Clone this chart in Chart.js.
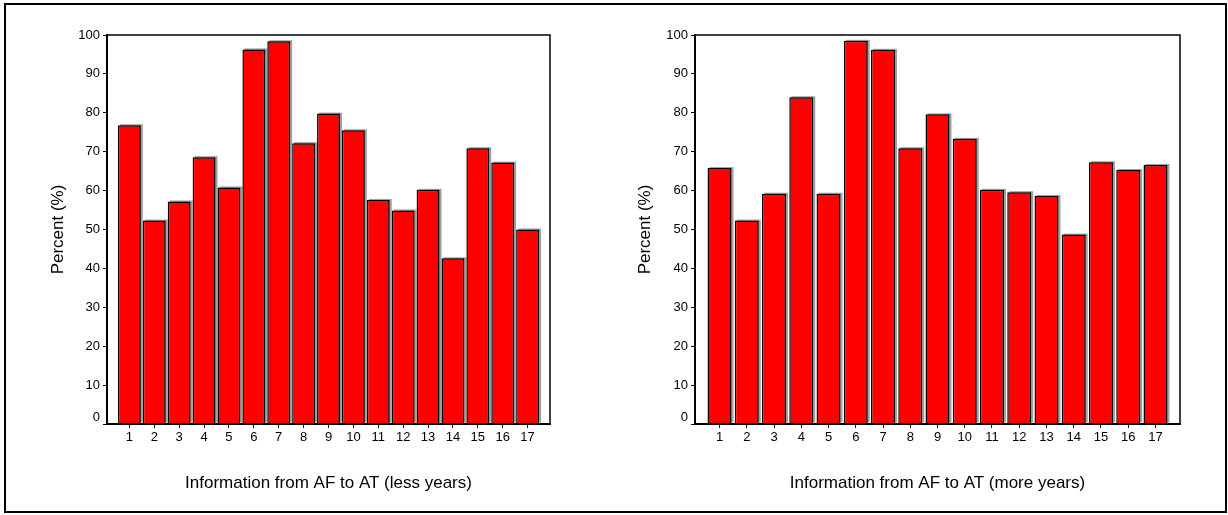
<!DOCTYPE html>
<html>
<head>
<meta charset="utf-8">
<script src="https://cdn.jsdelivr.net/npm/chart.js@4.4.1/dist/chart.umd.min.js"></script>
<style>
  html, body { margin: 0; padding: 0; background: #ffffff; }
  body { width: 1228px; height: 515px; position: relative; overflow: hidden; }
  .panel { position: absolute; top: 0; width: 614px; height: 515px; }
  #panelMenos { left: 0; }
  #panelMas { left: 614px; }
  .marco {
    position: absolute; left: 4px; top: 3px; width: 1223px; height: 510px;
    box-sizing: border-box; border: 2px solid #000000; pointer-events: none;
  }
</style>
</head>
<body>
<div class="panel" id="panelMenos"><canvas id="graficoMenos"></canvas></div>
<div class="panel" id="panelMas"><canvas id="graficoMas"></canvas></div>
<div class="marco"></div>
<script>
const CATEGORIAS = [1, 2, 3, 4, 5, 6, 7, 8, 9, 10, 11, 12, 13, 14, 15, 16, 17];
const MENOS_ANIOS = [76.8, 52.3, 57.2, 68.6, 60.8, 96.3, 98.4, 72.2, 79.8, 75.5, 57.6, 54.9, 60.2, 42.6, 70.9, 67.2, 50.0];
const MAS_ANIOS = [65.8, 52.3, 59.2, 84.0, 59.2, 98.5, 96.2, 70.9, 79.6, 73.3, 60.2, 59.6, 58.6, 48.7, 67.3, 65.3, 66.6];
const TICKS_Y = [0, 10, 20, 30, 40, 50, 60, 70, 80, 90, 100];

const FUENTE = "'Liberation Sans', Arial, sans-serif";
const TAM_TICK = 13;
const TAM_TITULO = 17;
const ALTO_LINEA = TAM_TITULO * 1.2;

// sombra gris a la derecha de cada barra (como el grafico original)
const sombraBarras = {
  id: "sombraBarras",
  beforeDatasetsDraw: (chart) => {
    const ctx = chart.ctx;
    ctx.save();
    ctx.fillStyle = "#a0a0a0";
    chart.getDatasetMeta(0).data.forEach((barra) => {
      const { x, y, base, width } = barra.getProps(["x", "y", "base", "width"], true);
      ctx.fillRect(x - width / 2 + 2, y - 1, width, base - y);
    });
    ctx.restore();
  },
};

// recuadro del area de grafico y etiqueta "0" desplazada hacia arriba
const recuadroPlot = {
  id: "recuadroPlot",
  afterDraw: (chart) => {
    const { ctx, chartArea } = chart;
    const escalaY = chart.scales.y;
    ctx.save();
    ctx.strokeStyle = "#000000";
    ctx.lineWidth = 1.5;
    ctx.strokeRect(chartArea.left, chartArea.top, chartArea.right - chartArea.left, chartArea.bottom - chartArea.top);
    ctx.fillStyle = "#000000";
    ctx.font = TAM_TICK + "px " + FUENTE;
    ctx.textAlign = "right";
    ctx.textBaseline = "middle";
    ctx.fillText("0", chartArea.left - 7, escalaY.getPixelForValue(0) - 7);
    ctx.restore();
  },
};

const crearGrafico = (idCanvas, valores, titulo, ajustes) => {
  const canvas = document.getElementById(idCanvas);
  if (!canvas || !window.Chart) return null;

  return new Chart(canvas, {
    type: "bar",
    data: {
      datasets: [
        {
          data: CATEGORIAS.map((cat, i) => ({ x: cat, y: valores[i] })),
          backgroundColor: "#ff0000",
          borderColor: "#000000",
          borderWidth: 1.5,
          borderSkipped: "bottom",
          barPercentage: ajustes.barra,
          categoryPercentage: 1,
        },
      ],
    },
    options: {
      responsive: true,
      maintainAspectRatio: false,
      animation: false,
      layout: {
        padding: { top: 35, right: ajustes.derecha, left: 0, bottom: 0 },
      },
      plugins: {
        legend: { display: false },
        tooltip: { enabled: false },
      },
      scales: {
        x: {
          type: "linear",
          min: 0.1,
          max: 17.9,
          offset: false,
          afterFit: (escala) => {
            escala.height = 91;
          },
          afterBuildTicks: (escala) => {
            escala.ticks = CATEGORIAS.map((v) => ({ value: v }));
          },
          grid: {
            offset: false,
            drawOnChartArea: false,
            drawTicks: true,
            tickLength: 4,
            color: "#000000",
          },
          border: { display: true, color: "#000000", width: 2 },
          ticks: {
            padding: 2,
            color: "#000000",
            font: { family: FUENTE, size: TAM_TICK },
            maxRotation: 0,
            autoSkip: false,
            callback: (valor) => String(valor),
          },
          title: {
            display: true,
            text: titulo,
            color: "#000000",
            font: { family: FUENTE, size: TAM_TITULO },
            padding: { top: 0, bottom: 32 - ALTO_LINEA / 2 },
          },
        },
        y: {
          min: 0,
          max: 100,
          afterFit: (escala) => {
            escala.width = ajustes.ejeY;
          },
          afterBuildTicks: (escala) => {
            escala.ticks = TICKS_Y.map((v) => ({ value: v }));
          },
          grid: {
            drawOnChartArea: false,
            drawTicks: true,
            tickLength: 4,
            color: "#000000",
          },
          border: { display: true, color: "#000000", width: 2 },
          ticks: {
            padding: 3,
            color: "#000000",
            font: { family: FUENTE, size: TAM_TICK },
            callback: (valor) => (valor === 0 ? "" : String(valor)),
          },
          title: {
            display: true,
            text: "Percent (%)",
            color: "#000000",
            font: { family: FUENTE, size: TAM_TITULO },
            padding: { top: ajustes.centroTituloY - ALTO_LINEA / 2, bottom: 0 },
          },
        },
      },
    },
    plugins: [sombraBarras, recuadroPlot],
  });
};

crearGrafico("graficoMenos", MENOS_ANIOS, "Information from AF to AT (less years)", {
  ejeY: 107,
  derecha: 64,
  centroTituloY: 58,
  barra: 0.92,
});

crearGrafico("graficoMas", MAS_ANIOS, "Information from AF to AT (more years)", {
  ejeY: 81,
  derecha: 48,
  centroTituloY: 31,
  barra: 0.88,
});
</script>
</body>
</html>
